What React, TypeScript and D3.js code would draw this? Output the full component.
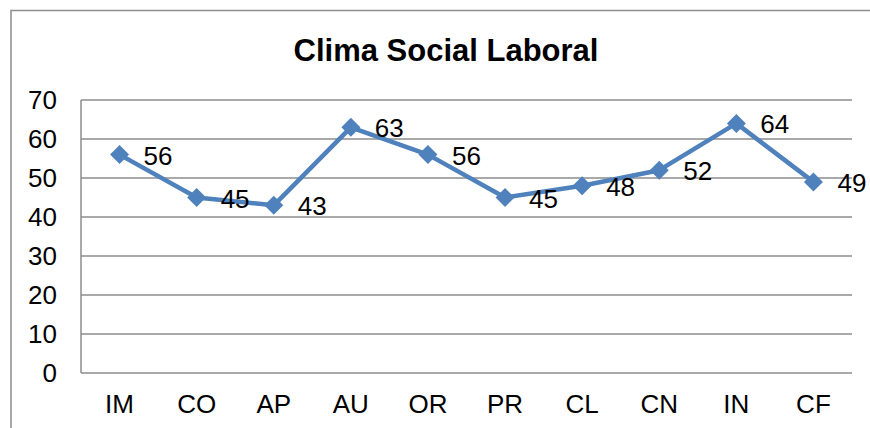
import React from "react";
import * as d3 from "d3";

const categories = ["IM", "CO", "AP", "AU", "OR", "PR", "CL", "CN", "IN", "CF"];
const values = [56, 45, 43, 63, 56, 45, 48, 52, 64, 49];
const yTicks = [0, 10, 20, 30, 40, 50, 60, 70];

const W = 870;
const H = 428;
const font = "'Liberation Sans', Arial, sans-serif";

const App = () => {
  const marginLeft = 81;
  const plotRight = 852;
  const plotTop = 100;
  const plotBottom = 373;

  const x = d3
    .scaleBand()
    .domain(categories)
    .range([marginLeft, plotRight]);
  const y = d3.scaleLinear().domain([0, 70]).range([plotBottom, plotTop]);

  const cx = (c) => x(c) + x.bandwidth() / 2;

  const lineGenerator = d3
    .line()
    .x((d, i) => cx(categories[i]))
    .y((d) => y(d));

  const r = 9.5; // half diagonal of the diamond marker
  const diamond = `M0,${-r}L${r},0L0,${r}L${-r},0Z`;

  return (
    <svg
      width={W}
      height={H}
      style={{ position: "absolute", left: 0, top: 0, background: "white" }}
    >
      {/* chart frame, runs off the bottom and right of the picture */}
      <path
        d={`M11,${H + 5}V10.5H${W + 5}`}
        fill="none"
        stroke="#8c8c8c"
        strokeWidth={1.5}
      />

      <text
        x={446}
        y={61}
        textAnchor="middle"
        fontFamily={font}
        fontWeight="bold"
        fontSize={31}
        fill="#000"
      >
        Clima Social Laboral
      </text>

      {/* grid lines */}
      {yTicks.map((t) => (
        <line
          key={t}
          x1={marginLeft}
          x2={plotRight}
          y1={y(t)}
          y2={y(t)}
          stroke="#8c8c8c"
          strokeWidth={1.5}
        />
      ))}
      <line
        x1={marginLeft}
        x2={marginLeft}
        y1={plotTop}
        y2={plotBottom}
        stroke="#8c8c8c"
        strokeWidth={1.5}
      />

      {/* y tick labels */}
      {yTicks.map((t) => (
        <text
          key={t}
          x={57}
          y={y(t) + 9}
          textAnchor="end"
          fontFamily={font}
          fontSize={26}
          fill="#000"
        >
          {t}
        </text>
      ))}

      {/* category labels */}
      {categories.map((c) => (
        <text
          key={c}
          x={cx(c)}
          y={413}
          textAnchor="middle"
          fontFamily={font}
          fontSize={26}
          fill="#000"
        >
          {c}
        </text>
      ))}

      <path
        d={lineGenerator(values)}
        fill="none"
        stroke="#4F81BD"
        strokeWidth={4.5}
        strokeLinejoin="round"
      />

      {values.map((v, i) => (
        <path
          key={i}
          d={diamond}
          transform={`translate(${cx(categories[i])},${y(v)})`}
          fill="#4F81BD"
        />
      ))}

      {/* data labels */}
      {values.map((v, i) => (
        <text
          key={i}
          x={cx(categories[i]) + 24}
          y={y(v) + 10}
          fontFamily={font}
          fontSize={26}
          fill="#000"
        >
          {v}
        </text>
      ))}
    </svg>
  );
};

export default App;
